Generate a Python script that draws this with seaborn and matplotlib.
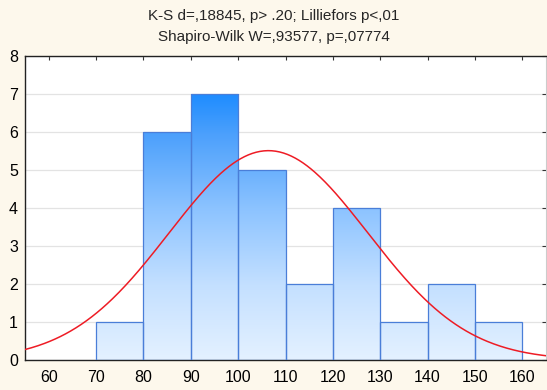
import numpy as np
import pandas as pd
import matplotlib
matplotlib.use("Agg")
import matplotlib.pyplot as plt
import seaborn as sns
from matplotlib.colors import LinearSegmentedColormap

# Data
bin_left = [70, 80, 90, 100, 110, 120, 130, 140, 150]
counts = [1, 6, 7, 5, 2, 4, 1, 2, 1]
bin_width = 10
fit_mean = 106.4
fit_sd = 21.0
x_ticks = [60, 70, 80, 90, 100, 110, 120, 130, 140, 150, 160]
y_ticks = [0, 1, 2, 3, 4, 5, 6, 7, 8]
title_lines = ["K-S d=,18845, p> .20; Lilliefors p<,01", "Shapiro-Wilk W=,93577, p=,07774"]

sns.set_theme(style="white")
plt.rcParams['font.family'] = ['Liberation Sans', 'DejaVu Sans']

fig = plt.figure(figsize=(5.47, 3.90), dpi=100, facecolor="#fdf8ec")
ax = fig.add_axes([25/547, 30/390, 521/547, 304/390])
ax.set_facecolor("white")

df = pd.DataFrame({"mid": [b + bin_width/2 for b in bin_left], "n": counts})
edges = bin_left + [bin_left[-1] + bin_width]
sns.histplot(data=df, x="mid", weights="n", bins=edges, ax=ax,
             facecolor="none", edgecolor="#4a7ed8", linewidth=0.9, zorder=3)

cmap = LinearSegmentedColormap.from_list(
    "g", [(0.0, "#e4f1ff"), (0.28, "#c4e0ff"), (0.57, "#8cc3ff"),
          (0.85, "#4ca0fc"), (1.0, "#1e8cff")])
grad = np.linspace(0, 1, 256).reshape(-1, 1)
for p in list(ax.patches):
    x0 = p.get_x()
    w = p.get_width()
    im = ax.imshow(grad, extent=[x0, x0 + w, 0, 7.0], origin="lower", cmap=cmap,
                   aspect="auto", zorder=2, vmin=0, vmax=1)
    im.set_clip_path(p)

xs = np.linspace(55, 165, 400)
ys = sum(counts) * bin_width / (fit_sd * np.sqrt(2 * np.pi)) * np.exp(-(xs - fit_mean) ** 2 / (2 * fit_sd ** 2))
sns.lineplot(x=xs, y=ys, ax=ax, color="#ee1c25", linewidth=1.1, zorder=4)

ax.set_xlim(55, 165)
ax.set_ylim(0, 8)
ax.set_xticks(x_ticks)
ax.set_yticks(y_ticks)
ax.set_xlabel("")
ax.set_ylabel("")
ax.yaxis.grid(True, color="#e3e3e3", linewidth=0.9, zorder=0)
ax.set_axisbelow(True)
ax.tick_params(axis="both", direction="in", length=3, width=0.8, labelsize=11.5,
               colors="#333333", labelcolor="black", top=True, right=True, pad=5)
ax.tick_params(axis="x", pad=7)
for s in ["left", "bottom", "top"]:
    ax.spines[s].set_color("#222222")
    ax.spines[s].set_linewidth(1.0)
ax.spines["right"].set_color("#cccccc")
ax.spines["right"].set_linewidth(0.8)

fig.text(0.5, 1 - 16/390, title_lines[0], ha="center", va="center", fontsize=11)
fig.text(0.5, 1 - 37/390, title_lines[1], ha="center", va="center", fontsize=11)

fig.savefig("out.png", dpi=100, facecolor=fig.get_facecolor())
